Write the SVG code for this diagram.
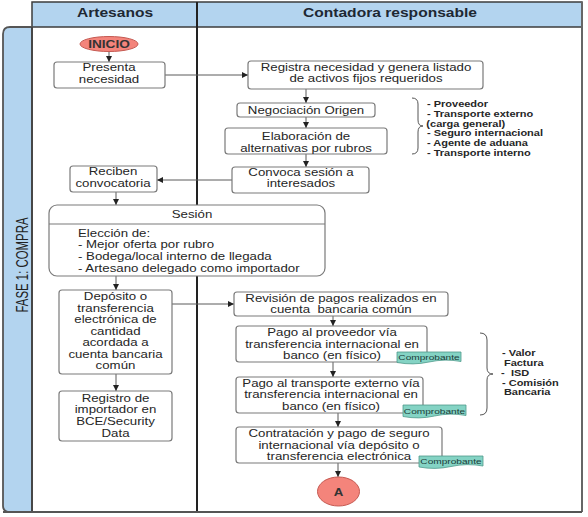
<svg xmlns="http://www.w3.org/2000/svg" width="588" height="517" viewBox="0 0 588 517">
<style>
.t{font-family:"Liberation Sans",Arial,sans-serif;font-size:10.2px;fill:#262626;text-anchor:middle}
.l{text-anchor:start}
.b{font-weight:bold}
.h{font-family:"Liberation Sans",Arial,sans-serif;font-size:13px;font-weight:bold;fill:#1e2833;text-anchor:middle}
.n{fill:#fff;stroke:#7a7a7a;stroke-width:1.2}
.doc{fill:#84d3c4;stroke:#4f9a8c;stroke-width:0.8}
.dt{font-family:"Liberation Sans",Arial,sans-serif;font-size:7.8px;fill:#1b3b38;text-anchor:middle}
.nt{font-family:"Liberation Sans",Arial,sans-serif;font-size:8.6px;font-weight:bold;fill:#262626}
.term{fill:#f4847b;stroke:#c55a52;stroke-width:1}
.c{fill:none;stroke:#5a5a5a;stroke-width:1}
.br{fill:none;stroke:#555;stroke-width:1}
</style>
<defs>
<marker id="ah" markerWidth="6" markerHeight="6" refX="6" refY="3" orient="auto" markerUnits="userSpaceOnUse"><path d="M0,0 L6,3 L0,6 Z" fill="#222"/></marker>
</defs>

<g id="frame">
<rect x="32" y="2" width="550" height="25" fill="#b3d4ef" stroke="#3d3d3d" stroke-width="1.5"/>
<path d="M32,27 H10 Q3,27 3,34 V506 Q3,512 10,512 H32 Z" fill="#b3d4ef" stroke="#555" stroke-width="1.8"/>
<line x1="32" y1="27" x2="32" y2="512" stroke="#444" stroke-width="1.8"/>
<line x1="197" y1="2" x2="197" y2="512" stroke="#222" stroke-width="2"/>
<line x1="582" y1="2" x2="582" y2="512" stroke="#666" stroke-width="2"/>
<line x1="3" y1="512" x2="582" y2="512" stroke="#555" stroke-width="2"/>
<text class="h" transform="translate(115,17) scale(1.2,1)">Artesanos</text>
<text class="h" transform="translate(390,17) scale(1.2,1)">Contadora responsable</text>
<text font-family="Liberation Sans,Arial,sans-serif" font-size="12" fill="#222" text-anchor="middle" transform="translate(28,265) rotate(-90) scale(0.95,1.3)">FASE 1: COMPRA</text>
</g>

<g id="connectors">
<line class="c" x1="109" y1="52" x2="109" y2="62" marker-end="url(#ah)"/>
<line class="c" x1="165" y1="75" x2="248" y2="75" marker-end="url(#ah)"/>
<line class="c" x1="306" y1="89" x2="306" y2="103" marker-end="url(#ah)"/>
<line class="c" x1="306" y1="117" x2="306" y2="128" marker-end="url(#ah)"/>
<line class="c" x1="306" y1="154" x2="306" y2="167" marker-end="url(#ah)"/>
<line class="c" x1="232" y1="180" x2="157" y2="180" marker-end="url(#ah)"/>
<line class="c" x1="116" y1="192" x2="116" y2="205" marker-end="url(#ah)"/>
<line class="c" x1="116" y1="276" x2="116" y2="290" marker-end="url(#ah)"/>
<line class="c" x1="116" y1="374" x2="116" y2="391" marker-end="url(#ah)"/>
<line class="c" x1="172" y1="304" x2="234" y2="304" marker-end="url(#ah)"/>
<line class="c" x1="333" y1="316" x2="333" y2="326" marker-end="url(#ah)"/>
<line class="c" x1="333" y1="362" x2="333" y2="377" marker-end="url(#ah)"/>
<line class="c" x1="338" y1="413" x2="338" y2="427" marker-end="url(#ah)"/>
<line class="c" x1="338" y1="463" x2="338" y2="477" marker-end="url(#ah)"/>
</g>

<g id="inicio">
<ellipse class="term" cx="109" cy="44" rx="29" ry="7.5"/>
<text class="t b" transform="translate(109,48) scale(1.3,1)" style="fill:#333;font-size:10.5px">INICIO</text>
</g>

<g id="presenta">
<rect class="n" x="54" y="62" width="111" height="26" rx="3"/>
<text class="t" transform="translate(109,0) scale(1.3,1)"><tspan x="0" y="71.5">Presenta</tspan><tspan x="0" y="83">necesidad</tspan></text>
</g>

<g id="registra">
<rect class="n" x="248" y="61" width="235" height="28" rx="3"/>
<text class="t" transform="translate(366,0) scale(1.3,1)"><tspan x="0" y="71">Registra necesidad y genera listado</tspan><tspan x="0" y="82.5">de activos fijos requeridos</tspan></text>
</g>

<g id="negociacion">
<rect class="n" x="237" y="103" width="138" height="14" rx="3"/>
<text class="t" transform="translate(306,113.5) scale(1.3,1)">Negociación Origen</text>
</g>

<g id="elaboracion">
<rect class="n" x="225" y="128" width="162" height="26" rx="3"/>
<text class="t" transform="translate(306,0) scale(1.3,1)"><tspan x="0" y="140.5">Elaboración de</tspan><tspan x="0" y="152">alternativas por rubros</tspan></text>
</g>

<g id="convoca">
<rect class="n" x="232" y="167" width="137" height="26" rx="3"/>
<text class="t" transform="translate(301,0) scale(1.3,1)"><tspan x="0" y="176">Convoca sesión a</tspan><tspan x="0" y="187.5">interesados</tspan></text>
</g>

<g id="reciben">
<rect class="n" x="70" y="166" width="87" height="26" rx="3"/>
<text class="t" transform="translate(113,0) scale(1.3,1)"><tspan x="0" y="175.5">Reciben</tspan><tspan x="0" y="187">convocatoria</tspan></text>
</g>

<g id="sesion">
<rect class="n" x="49" y="205" width="276" height="71" rx="8"/>
<line x1="49" y1="224" x2="325" y2="224" stroke="#7a7a7a" stroke-width="1.2"/>
<text class="t" transform="translate(192,218) scale(1.3,1)">Sesión</text>
<text class="t l" transform="translate(78,0) scale(1.3,1)"><tspan x="0" y="237">Elección de:</tspan><tspan x="0" y="248.5">- Mejor oferta por rubro</tspan><tspan x="0" y="260.5">- Bodega/local interno de llegada</tspan><tspan x="0" y="272.5">- Artesano delegado como importador</tspan></text>
</g>

<g id="deposito">
<rect class="n" x="59" y="290" width="113" height="84" rx="3"/>
<text class="t" transform="translate(115.5,0) scale(1.3,1)"><tspan x="0" y="300.5">Depósito o</tspan><tspan x="0" y="312">transferencia</tspan><tspan x="0" y="323.5">electrónica de</tspan><tspan x="0" y="335">cantidad</tspan><tspan x="0" y="346.5">acordada a</tspan><tspan x="0" y="358">cuenta bancaria</tspan><tspan x="0" y="369.5">común</tspan></text>
</g>

<g id="registro">
<rect class="n" x="59" y="391" width="113" height="50" rx="3"/>
<text class="t" transform="translate(115.5,0) scale(1.3,1)"><tspan x="0" y="402">Registro de</tspan><tspan x="0" y="413.5">importador en</tspan><tspan x="0" y="425.5">BCE/Security</tspan><tspan x="0" y="437.5">Data</tspan></text>
</g>

<g id="revision">
<rect class="n" x="234" y="292" width="214" height="24" rx="3"/>
<text class="t" transform="translate(341,0) scale(1.3,1)" xml:space="preserve"><tspan x="0" y="302">Revisión de pagos realizados en</tspan><tspan x="0" y="313">cuenta  bancaria común</tspan></text>
</g>

<g id="pago-proveedor">
<rect class="n" x="236" y="326" width="191" height="36" rx="3"/>
<text class="t" transform="translate(332,0) scale(1.3,1)"><tspan x="0" y="336.5">Pago al proveedor vía</tspan><tspan x="0" y="348">transferencia internacional en</tspan><tspan x="0" y="359.5">banco (en físico)</tspan></text>
<path class="doc" d="M397,352 H461 V361.5 Q445,358.5 429,362 T397,362.5 Z"/>
<text class="dt" transform="translate(429,360) scale(1.3,1)">Comprobante</text>
</g>

<g id="pago-transporte">
<rect class="n" x="236" y="377" width="187" height="36" rx="3"/>
<text class="t" transform="translate(331,0) scale(1.3,1)"><tspan x="0" y="387">Pago al transporte externo vía</tspan><tspan x="0" y="398.5">transferencia internacional en</tspan><tspan x="0" y="410">banco (en físico)</tspan></text>
<path class="doc" d="M403,405 H466 V415.5 Q450,412.5 434.5,416 T403,416.5 Z"/>
<text class="dt" transform="translate(434.5,413.5) scale(1.3,1)">Comprobante</text>
</g>

<g id="contratacion">
<rect class="n" x="236" y="427" width="206" height="36" rx="3"/>
<text class="t" transform="translate(339,0) scale(1.3,1)"><tspan x="0" y="437.5">Contratación y pago de seguro</tspan><tspan x="0" y="449">internacional vía depósito o</tspan><tspan x="0" y="460">transferencia electrónica</tspan></text>
<path class="doc" d="M419,456 H483 V466 Q467,463 451,466.5 T419,467 Z"/>
<text class="dt" transform="translate(451,464) scale(1.3,1)">Comprobante</text>
</g>

<g id="conector-a">
<ellipse class="term" cx="338.5" cy="491.5" rx="21" ry="14.5"/>
<text class="t b" transform="translate(338.5,495.5) scale(1.3,1)" style="fill:#333">A</text>
</g>

<g id="nota-rubros">
<path class="br" d="M412,98 Q418,98 418,104 V120 Q418,126 423,126 Q418,126 418,132 V148 Q418,154 412,154"/>
<text class="nt" transform="translate(427,0) scale(1.28,1)"><tspan x="0" y="107">- Proveedor</tspan><tspan x="0" y="116.8">- Transporte externo</tspan><tspan x="-0.5" y="126.6">(carga general)</tspan><tspan x="0" y="136.4">- Seguro internacional</tspan><tspan x="0" y="146.2">- Agente de aduana</tspan><tspan x="0" y="156">- Transporte interno</tspan></text>
</g>

<g id="nota-pagos">
<path class="br" d="M480,333 Q487,333 487,340 V368 Q487,374 493,374 Q487,374 487,380 V408 Q487,415 480,415"/>
<text class="nt" transform="translate(502,0) scale(1.28,1)" xml:space="preserve"><tspan x="0" y="356">- Valor</tspan><tspan x="1.5" y="366">Factura</tspan><tspan x="-0.7" y="376">-  ISD</tspan><tspan x="0" y="386">- Comisión</tspan><tspan x="1.5" y="395.5">Bancaria</tspan></text>
</g>
</svg>
